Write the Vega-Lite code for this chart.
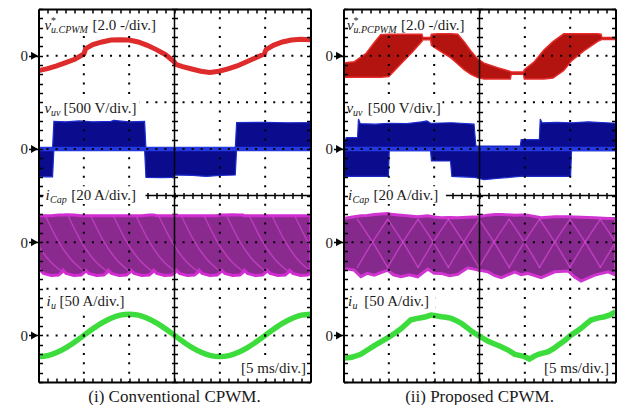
{
"$schema":"https://vega.github.io/schema/vega-lite/v6.json",
"background":"white",
"padding":{"left":19.5,"top":8,"right":0,"bottom":0},
"spacing":11,
"config":{"view":{"stroke":null},"axis":{"minExtent":0}},
"datasets":{
"redL":[{"t":0,"v":6.679},{"t":1,"v":6.721},{"t":2,"v":6.779},{"t":3,"v":6.85},{"t":4,"v":6.921},{"t":5,"v":7.036},{"t":5.2,"v":7.15},{"t":6,"v":7.236},{"t":7,"v":7.293},{"t":8,"v":7.336},{"t":9,"v":7.343},{"t":10,"v":7.336},{"t":11,"v":7.293},{"t":12,"v":7.221},{"t":13,"v":7.129},{"t":14,"v":7.021},{"t":14.9,"v":6.879},{"t":15.2,"v":6.807},{"t":15.9,"v":6.764},{"t":16.9,"v":6.714},{"t":17.9,"v":6.664},{"t":18.9,"v":6.636},{"t":19.9,"v":6.664},{"t":20.9,"v":6.714},{"t":21.9,"v":6.779},{"t":22.9,"v":6.864},{"t":23.9,"v":6.95},{"t":24.9,"v":7.036},{"t":25.1,"v":7.129},{"t":25.9,"v":7.221},{"t":26.9,"v":7.293},{"t":27.9,"v":7.336},{"t":28.9,"v":7.35},{"t":30,"v":7.343}],
"blueL":[{"t":0,"lo":4.41,"hi":5},{"t":0.8,"lo":4.4,"hi":5},{"t":1.55,"lo":4.4,"hi":5},{"t":1.7,"lo":5,"hi":5.59},{"t":3,"lo":5,"hi":5.58},{"t":4.5,"lo":5,"hi":5.6},{"t":6,"lo":5,"hi":5.58},{"t":8,"lo":5,"hi":5.59},{"t":8.3,"lo":5,"hi":5.61},{"t":10,"lo":5,"hi":5.58},{"t":11.7,"lo":5,"hi":5.59},{"t":11.85,"lo":4.39,"hi":5},{"t":13.5,"lo":4.385,"hi":5},{"t":14.9,"lo":4.39,"hi":5},{"t":15,"lo":4.44,"hi":5},{"t":17,"lo":4.43,"hi":5},{"t":18.5,"lo":4.41,"hi":5},{"t":20,"lo":4.43,"hi":5},{"t":21.7,"lo":4.44,"hi":5},{"t":21.85,"lo":5,"hi":5.565},{"t":25,"lo":5,"hi":5.57},{"t":27.5,"lo":5,"hi":5.56},{"t":30,"lo":5,"hi":5.565}],
"magL":[{"t":0,"lo":2.37,"hi":3.565},
{"t":0.2,"lo":2.4,"hi":3.565},{"t":0.55,"lo":2.33,"hi":3.565},{"t":1.4,"lo":2.285,"hi":3.565},{"t":2.2,"lo":2.295,"hi":3.58},{"t":2.55,"lo":2.35,"hi":3.58},
{"t":2.7,"lo":2.4,"hi":3.58},{"t":3.05,"lo":2.33,"hi":3.585},{"t":3.9,"lo":2.285,"hi":3.58},{"t":4.7,"lo":2.295,"hi":3.565},{"t":5.05,"lo":2.35,"hi":3.565},
{"t":5.2,"lo":2.4,"hi":3.565},{"t":5.55,"lo":2.33,"hi":3.565},{"t":6.4,"lo":2.285,"hi":3.565},{"t":7.2,"lo":2.295,"hi":3.565},{"t":7.55,"lo":2.35,"hi":3.565},
{"t":7.7,"lo":2.4,"hi":3.565},{"t":8.05,"lo":2.33,"hi":3.565},{"t":8.9,"lo":2.285,"hi":3.565},{"t":9.7,"lo":2.295,"hi":3.565},{"t":10.05,"lo":2.35,"hi":3.565},
{"t":10.2,"lo":2.4,"hi":3.565},{"t":10.55,"lo":2.33,"hi":3.565},{"t":11.4,"lo":2.285,"hi":3.565},{"t":12.2,"lo":2.295,"hi":3.58},{"t":12.55,"lo":2.35,"hi":3.58},
{"t":12.7,"lo":2.4,"hi":3.58},{"t":13.05,"lo":2.33,"hi":3.565},{"t":13.9,"lo":2.285,"hi":3.565},{"t":14.7,"lo":2.295,"hi":3.565},{"t":15.05,"lo":2.35,"hi":3.565},
{"t":15.2,"lo":2.4,"hi":3.565},{"t":15.55,"lo":2.33,"hi":3.565},{"t":16.4,"lo":2.285,"hi":3.565},{"t":17.2,"lo":2.295,"hi":3.565},{"t":17.55,"lo":2.35,"hi":3.565},
{"t":17.7,"lo":2.4,"hi":3.565},{"t":18.05,"lo":2.33,"hi":3.565},{"t":18.9,"lo":2.285,"hi":3.565},{"t":19.7,"lo":2.295,"hi":3.565},{"t":20.05,"lo":2.35,"hi":3.58},
{"t":20.2,"lo":2.4,"hi":3.58},{"t":20.55,"lo":2.33,"hi":3.58},{"t":21.4,"lo":2.285,"hi":3.585},{"t":22.2,"lo":2.295,"hi":3.58},{"t":22.55,"lo":2.35,"hi":3.58},
{"t":22.7,"lo":2.4,"hi":3.565},{"t":23.05,"lo":2.33,"hi":3.565},{"t":23.9,"lo":2.285,"hi":3.565},{"t":24.7,"lo":2.295,"hi":3.565},{"t":25.05,"lo":2.35,"hi":3.565},
{"t":25.2,"lo":2.4,"hi":3.565},{"t":25.55,"lo":2.33,"hi":3.565},{"t":26.4,"lo":2.285,"hi":3.565},{"t":27.2,"lo":2.295,"hi":3.565},{"t":27.55,"lo":2.35,"hi":3.565},
{"t":27.7,"lo":2.4,"hi":3.565},{"t":28.05,"lo":2.33,"hi":3.565},{"t":28.9,"lo":2.285,"hi":3.565},{"t":29.7,"lo":2.295,"hi":3.565},{"t":30,"lo":2.33,"hi":3.565}],
"curvL":[
{"k":1,"t":-1.7,"v":3.55},{"k":1,"t":-0.4,"v":3.05},{"k":1,"t":1.0,"v":2.65},{"k":1,"t":2.5,"v":2.38},
{"k":2,"t":0.8,"v":3.55},{"k":2,"t":2.1,"v":3.05},{"k":2,"t":3.5,"v":2.65},{"k":2,"t":5.0,"v":2.38},
{"k":3,"t":3.3,"v":3.55},{"k":3,"t":4.6,"v":3.05},{"k":3,"t":6.0,"v":2.65},{"k":3,"t":7.5,"v":2.38},
{"k":4,"t":5.8,"v":3.55},{"k":4,"t":7.1,"v":3.05},{"k":4,"t":8.5,"v":2.65},{"k":4,"t":10.0,"v":2.38},
{"k":5,"t":8.3,"v":3.55},{"k":5,"t":9.6,"v":3.05},{"k":5,"t":11.0,"v":2.65},{"k":5,"t":12.5,"v":2.38},
{"k":6,"t":10.8,"v":3.55},{"k":6,"t":12.1,"v":3.05},{"k":6,"t":13.5,"v":2.65},{"k":6,"t":15.0,"v":2.38},
{"k":7,"t":13.3,"v":3.55},{"k":7,"t":14.6,"v":3.05},{"k":7,"t":16.0,"v":2.65},{"k":7,"t":17.5,"v":2.38},
{"k":8,"t":15.8,"v":3.55},{"k":8,"t":17.1,"v":3.05},{"k":8,"t":18.5,"v":2.65},{"k":8,"t":20.0,"v":2.38},
{"k":9,"t":18.3,"v":3.55},{"k":9,"t":19.6,"v":3.05},{"k":9,"t":21.0,"v":2.65},{"k":9,"t":22.5,"v":2.38},
{"k":10,"t":20.8,"v":3.55},{"k":10,"t":22.1,"v":3.05},{"k":10,"t":23.5,"v":2.65},{"k":10,"t":25.0,"v":2.38},
{"k":11,"t":23.3,"v":3.55},{"k":11,"t":24.6,"v":3.05},{"k":11,"t":26.0,"v":2.65},{"k":11,"t":27.5,"v":2.38},
{"k":12,"t":25.8,"v":3.55},{"k":12,"t":27.1,"v":3.05},{"k":12,"t":28.5,"v":2.65},{"k":12,"t":30.0,"v":2.38},
{"k":13,"t":28.3,"v":3.55},{"k":13,"t":29.6,"v":3.05},{"k":13,"t":31.0,"v":2.65},{"k":13,"t":32.5,"v":2.38}],
"greenL":[{"t":0,"v":0.545},{"t":1,"v":0.567},{"t":2,"v":0.632},{"t":3,"v":0.732},{"t":4,"v":0.859},{"t":5,"v":1.0},{"t":6,"v":1.141},{"t":7,"v":1.268},{"t":8,"v":1.368},{"t":9,"v":1.433},{"t":10,"v":1.455},{"t":11,"v":1.433},{"t":12,"v":1.368},{"t":13,"v":1.268},{"t":14,"v":1.141},{"t":15,"v":1.0},{"t":16,"v":0.859},{"t":17,"v":0.732},{"t":18,"v":0.632},{"t":19,"v":0.567},{"t":20,"v":0.545},{"t":21,"v":0.567},{"t":22,"v":0.632},{"t":23,"v":0.732},{"t":24,"v":0.859},{"t":25,"v":1.0},{"t":26,"v":1.141},{"t":27,"v":1.268},{"t":28,"v":1.368},{"t":29,"v":1.433},{"t":30,"v":1.455}],
"redR":[{"t":0,"lo":6.536,"hi":6.843},{"t":1.2,"lo":6.536,"hi":6.87},{"t":2.5,"lo":6.536,"hi":7.05},{"t":3.4,"lo":6.536,"hi":7.28},{"t":4.1,"lo":6.536,"hi":7.45},{"t":5.0,"lo":6.55,"hi":7.46},{"t":6.5,"lo":6.86,"hi":7.46},{"t":7.6,"lo":7.08,"hi":7.46},{"t":8.65,"lo":7.31,"hi":7.46},{"t":8.75,"lo":7.34,"hi":7.39},{"t":9.6,"lo":7.34,"hi":7.39},{"t":9.7,"lo":7.22,"hi":7.46},{"t":10.4,"lo":7.13,"hi":7.47},{"t":11.85,"lo":6.95,"hi":7.47},{"t":12.6,"lo":6.82,"hi":7.46},{"t":13.3,"lo":6.7,"hi":7.3},{"t":14.05,"lo":6.6,"hi":7.1},{"t":14.8,"lo":6.53,"hi":6.93},{"t":15.5,"lo":6.5,"hi":6.84},{"t":17.0,"lo":6.5,"hi":6.74},{"t":18.4,"lo":6.5,"hi":6.66},{"t":18.5,"lo":6.6,"hi":6.65},{"t":19.85,"lo":6.6,"hi":6.65},{"t":19.95,"lo":6.5,"hi":6.7},{"t":21.0,"lo":6.5,"hi":6.86},{"t":22.1,"lo":6.5,"hi":7.12},{"t":23.1,"lo":6.52,"hi":7.3},{"t":24.3,"lo":6.68,"hi":7.47},{"t":25.1,"lo":6.88,"hi":7.47},{"t":26.5,"lo":7.1,"hi":7.47},{"t":28.0,"lo":7.3,"hi":7.47},{"t":28.4,"lo":7.34,"hi":7.46},{"t":28.5,"lo":7.345,"hi":7.39},{"t":30,"lo":7.345,"hi":7.39}],
"blueR":[{"t":0,"lo":4.41,"hi":5.06},{"t":0.3,"lo":4.41,"hi":5.24},{"t":1.55,"lo":4.41,"hi":5.24},{"t":1.65,"lo":4.41,"hi":5.64},{"t":1.85,"lo":4.41,"hi":5.54},{"t":3.5,"lo":4.41,"hi":5.53},{"t":4.95,"lo":4.41,"hi":5.55},{"t":5.05,"lo":4.96,"hi":5.55},{"t":7,"lo":4.96,"hi":5.54},{"t":8.6,"lo":4.96,"hi":5.58},{"t":9.2,"lo":4.96,"hi":5.6},{"t":9.6,"lo":4.96,"hi":5.55},{"t":9.7,"lo":4.74,"hi":5.55},{"t":11.8,"lo":4.74,"hi":5.56},{"t":11.95,"lo":4.41,"hi":5.56},{"t":13,"lo":4.4,"hi":5.55},{"t":14.4,"lo":4.39,"hi":5.53},{"t":14.6,"lo":4.38,"hi":5.06},{"t":15.5,"lo":4.34,"hi":5.06},{"t":17.2,"lo":4.37,"hi":5.06},{"t":19.5,"lo":4.41,"hi":5.06},{"t":19.6,"lo":4.41,"hi":5.2},{"t":21.6,"lo":4.41,"hi":5.2},{"t":21.7,"lo":4.41,"hi":5.64},{"t":21.9,"lo":4.41,"hi":5.56},{"t":23.5,"lo":4.41,"hi":5.57},{"t":25.05,"lo":4.41,"hi":5.56},{"t":25.15,"lo":4.96,"hi":5.56},{"t":27,"lo":4.96,"hi":5.58},{"t":29,"lo":4.96,"hi":5.56},{"t":30,"lo":4.96,"hi":5.55}],
"magR":[{"t":0,"lo":2.436,"hi":3.507},{"t":1.18,"lo":2.4,"hi":3.543},{"t":1.92,"lo":2.257,"hi":3.564},{"t":2.6,"lo":2.33,"hi":3.57},{"t":3.39,"lo":2.293,"hi":3.593},{"t":4.87,"lo":2.4,"hi":3.614},{"t":5.5,"lo":2.3,"hi":3.59},{"t":6.34,"lo":2.257,"hi":3.579},{"t":7.3,"lo":2.3,"hi":3.56},{"t":8.18,"lo":2.257,"hi":3.543},{"t":9.29,"lo":2.421,"hi":3.564},{"t":10.0,"lo":2.33,"hi":3.54},{"t":10.76,"lo":2.329,"hi":3.521},{"t":11.7,"lo":2.28,"hi":3.53},{"t":12.6,"lo":2.307,"hi":3.521},{"t":13.7,"lo":2.45,"hi":3.536},{"t":14.9,"lo":2.4,"hi":3.543},{"t":15.9,"lo":2.364,"hi":3.579},{"t":16.7,"lo":2.28,"hi":3.59},{"t":17.4,"lo":2.236,"hi":3.593},{"t":18.9,"lo":2.364,"hi":3.579},{"t":19.6,"lo":2.3,"hi":3.58},{"t":20.3,"lo":2.329,"hi":3.579},{"t":21.8,"lo":2.236,"hi":3.521},{"t":23.3,"lo":2.364,"hi":3.543},{"t":24.8,"lo":2.379,"hi":3.543},{"t":25.5,"lo":2.25,"hi":3.54},{"t":26.2,"lo":2.164,"hi":3.536},{"t":27.7,"lo":2.293,"hi":3.521},{"t":29.2,"lo":2.364,"hi":3.507},{"t":30,"lo":2.293,"hi":3.507}],
"crossR":[
{"k":"d1","t":1.5,"v":3.5},{"k":"d1","t":3.2,"v":3.0},{"k":"d1","t":4.9,"v":2.45},{"k":"a1","t":1.5,"v":2.45},{"k":"a1","t":3.2,"v":3.0},{"k":"a1","t":4.9,"v":3.5},
{"k":"d2","t":4.85,"v":3.5},{"k":"d2","t":6.55,"v":3.0},{"k":"d2","t":8.25,"v":2.45},{"k":"a2","t":4.85,"v":2.45},{"k":"a2","t":6.55,"v":3.0},{"k":"a2","t":8.25,"v":3.5},
{"k":"d3","t":8.2,"v":3.5},{"k":"d3","t":9.9,"v":3.0},{"k":"d3","t":11.6,"v":2.45},{"k":"a3","t":8.2,"v":2.45},{"k":"a3","t":9.9,"v":3.0},{"k":"a3","t":11.6,"v":3.5},
{"k":"d4","t":11.55,"v":3.5},{"k":"d4","t":13.25,"v":3.0},{"k":"d4","t":14.95,"v":2.45},{"k":"a4","t":11.55,"v":2.45},{"k":"a4","t":13.25,"v":3.0},{"k":"a4","t":14.95,"v":3.5},
{"k":"d5","t":14.9,"v":3.5},{"k":"d5","t":16.6,"v":3.0},{"k":"d5","t":18.3,"v":2.45},{"k":"a5","t":14.9,"v":2.45},{"k":"a5","t":16.6,"v":3.0},{"k":"a5","t":18.3,"v":3.5},
{"k":"d6","t":18.25,"v":3.5},{"k":"d6","t":19.95,"v":3.0},{"k":"d6","t":21.65,"v":2.45},{"k":"a6","t":18.25,"v":2.45},{"k":"a6","t":19.95,"v":3.0},{"k":"a6","t":21.65,"v":3.5},
{"k":"d7","t":21.6,"v":3.5},{"k":"d7","t":23.3,"v":3.0},{"k":"d7","t":25.0,"v":2.45},{"k":"a7","t":21.6,"v":2.45},{"k":"a7","t":23.3,"v":3.0},{"k":"a7","t":25.0,"v":3.5},
{"k":"d8","t":24.95,"v":3.5},{"k":"d8","t":26.65,"v":3.0},{"k":"d8","t":28.35,"v":2.45},{"k":"a8","t":24.95,"v":2.45},{"k":"a8","t":26.65,"v":3.0},{"k":"a8","t":28.35,"v":3.5},
{"k":"d9","t":28.3,"v":3.5},{"k":"d9","t":30.0,"v":3.0},{"k":"a9","t":28.3,"v":2.45},{"k":"a9","t":30.0,"v":3.0}],
"greenR":[{"t":0,"v":0.507},{"t":0.9,"v":0.53},{"t":1.9,"v":0.593},{"t":2.6,"v":0.68},{"t":3.4,"v":0.779},{"t":4.2,"v":0.87},{"t":5,"v":0.964},{"t":5.7,"v":1.05},{"t":6.3,"v":1.136},{"t":6.9,"v":1.24},{"t":7.4,"v":1.329},{"t":8,"v":1.36},{"t":8.55,"v":1.379},{"t":9.1,"v":1.4},{"t":9.65,"v":1.436},{"t":10.2,"v":1.42},{"t":10.8,"v":1.4},{"t":11.3,"v":1.39},{"t":11.9,"v":1.364},{"t":12.4,"v":1.32},{"t":13,"v":1.257},{"t":13.6,"v":1.17},{"t":14.1,"v":1.093},{"t":14.9,"v":0.993},{"t":15.9,"v":0.879},{"t":16.6,"v":0.82},{"t":17.4,"v":0.757},{"t":18.2,"v":0.68},{"t":18.9,"v":0.593},{"t":19.4,"v":0.57},{"t":20,"v":0.543},{"t":20.5,"v":0.493},{"t":21,"v":0.55},{"t":21.5,"v":0.593},{"t":22,"v":0.62},{"t":22.6,"v":0.65},{"t":23.2,"v":0.72},{"t":23.7,"v":0.793},{"t":24.4,"v":0.89},{"t":25,"v":0.993},{"t":25.6,"v":1.07},{"t":26.2,"v":1.15},{"t":26.8,"v":1.25},{"t":27.3,"v":1.329},{"t":28,"v":1.37},{"t":28.8,"v":1.4},{"t":29.4,"v":1.44},{"t":30,"v":1.507}],
"zeros":[{"v":1},{"v":3},{"v":5},{"v":7}],
"gx":[{"g":5},{"g":10},{"g":20},{"g":25}],
"gy":[{"g":1},{"g":2},{"g":3},{"g":5},{"g":6},{"g":7}],
"box":[
{"p":"L","t1":0.55,"t2":13.2,"v1":7.42,"v2":7.85},{"p":"L","t1":0.55,"t2":11.1,"v1":5.66,"v2":6.05},{"p":"L","t1":0.55,"t2":11.8,"v1":3.82,"v2":4.2},{"p":"L","t1":0.55,"t2":10.4,"v1":1.54,"v2":1.95},{"p":"L","t1":22.05,"t2":29.7,"v1":0.107,"v2":0.47},
{"p":"R","t1":0.17,"t2":13.7,"v1":7.5,"v2":7.85},{"p":"R","t1":0.17,"t2":10.9,"v1":5.66,"v2":6.05},{"p":"R","t1":0.17,"t2":11.3,"v1":3.82,"v2":4.2},{"p":"R","t1":0.17,"t2":10.1,"v1":1.54,"v2":1.95},{"p":"R","t1":21.8,"t2":29.5,"v1":0.107,"v2":0.47}],
"lab":[
{"p":"L","s":"it","t":0.66,"v":7.55,"text":"v"},{"p":"L","s":"sup","t":1.38,"v":7.68,"text":"*"},{"p":"L","s":"sub","t":1.38,"v":7.475,"text":"u.CPWM"},{"p":"L","s":"rm","t":5.95,"v":7.55,"text":"[2.0 -/div.]"},
{"p":"L","s":"it","t":0.66,"v":5.77,"text":"v"},{"p":"L","s":"sub","t":1.38,"v":5.695,"text":"uv"},{"p":"L","s":"rm","t":2.76,"v":5.77,"text":"[500 V/div.]"},
{"p":"L","s":"it","t":0.77,"v":3.904,"text":"i"},{"p":"L","s":"sub","t":1.27,"v":3.83,"text":"Cap"},{"p":"L","s":"rm","t":3.6,"v":3.904,"text":"[20 A/div.]"},
{"p":"L","s":"it","t":0.88,"v":1.63,"text":"i"},{"p":"L","s":"sub","t":1.38,"v":1.555,"text":"u"},{"p":"L","s":"rm","t":2.32,"v":1.63,"text":"[50 A/div.]"},
{"p":"L","s":"rmR","t":29.5,"v":0.193,"text":"[5 ms/div.]"},
{"p":"R","s":"it","t":0.39,"v":7.55,"text":"v"},{"p":"R","s":"sup","t":1.1,"v":7.68,"text":"*"},{"p":"R","s":"sub","t":1.1,"v":7.475,"text":"u.PCPWM"},{"p":"R","s":"rm","t":6.34,"v":7.55,"text":"[2.0 -/div.]"},
{"p":"R","s":"it","t":0.33,"v":5.77,"text":"v"},{"p":"R","s":"sub","t":1.05,"v":5.695,"text":"uv"},{"p":"R","s":"rm","t":2.67,"v":5.77,"text":"[500 V/div.]"},
{"p":"R","s":"it","t":0.5,"v":3.904,"text":"i"},{"p":"R","s":"sub","t":0.99,"v":3.83,"text":"Cap"},{"p":"R","s":"rm","t":3.3,"v":3.904,"text":"[20 A/div.]"},
{"p":"R","s":"it","t":0.5,"v":1.63,"text":"i"},{"p":"R","s":"sub","t":0.99,"v":1.555,"text":"u"},{"p":"R","s":"rm","t":2.29,"v":1.63,"text":"[50 A/div.]"},
{"p":"R","s":"rmR","t":29.27,"v":0.193,"text":"[5 ms/div.]"}]
},
"hconcat":[
{"width":272,"height":373,
"title":{"text":"(i) Conventional CPWM.","orient":"bottom","anchor":"middle","frame":"group","offset":6,"font":"Liberation Serif","fontSize":17,"fontWeight":"normal","color":"#1a1a1a"},
"resolve":{"axis":{"x":"independent","y":"independent"}},
"layer":[
{"data":{"name":"blueL"},"mark":{"type":"area","fill":"#0b0b8e","stroke":"#1c2ccc","strokeWidth":1.2,"clip":true},
 "encoding":{"x":{"field":"t","type":"quantitative","scale":{"domain":[0,30],"nice":false,"zero":false},"axis":{"orient":"bottom","title":null,"values":[0,1,2,3,4,5,6,7,8,9,10,11,12,13,14,15,16,17,18,19,20,21,22,23,24,25,26,27,28,29,30],"ticks":true,"tickSize":-4,"tickWidth":1.5,"tickColor":"#000","domain":true,"domainWidth":2,"domainColor":"#000","labels":false,"grid":false,"zindex":1}},
 "y":{"field":"lo","type":"quantitative","scale":{"domain":[0,8],"nice":false,"zero":false},"axis":{"orient":"left","title":null,"values":[0,0.2,0.4,0.6,0.8,1,1.2,1.4,1.6,1.8,2,2.2,2.4,2.6,2.8,3,3.2,3.4,3.6,3.8,4,4.2,4.4,4.6,4.8,5,5.2,5.4,5.6,5.8,6,6.2,6.4,6.6,6.8,7,7.2,7.4,7.6,7.8,8],"ticks":true,"tickSize":-4,"tickWidth":1.5,"tickColor":"#000","domain":true,"domainWidth":2,"domainColor":"#000","labels":false,"grid":false,"zindex":1,"minExtent":0}},
 "y2":{"field":"hi"}}},
{"data":{"values":[{}]},"mark":{"type":"rule","color":"#2438e0","strokeWidth":4.5},"encoding":{"y":{"datum":5,"type":"quantitative","scale":{"domain":[0,8],"nice":false,"zero":false},"axis":null}}},
{"data":{"name":"redL"},"mark":{"type":"line","color":"#de2b2b","strokeWidth":5,"clip":true},
 "encoding":{"x":{"field":"t","type":"quantitative","scale":{"domain":[0,30],"nice":false,"zero":false},"axis":{"orient":"top","title":null,"values":[0,1,2,3,4,5,6,7,8,9,10,11,12,13,14,15,16,17,18,19,20,21,22,23,24,25,26,27,28,29,30],"ticks":true,"tickSize":-4,"tickWidth":1.5,"tickColor":"#000","domain":true,"domainWidth":2,"domainColor":"#000","labels":false,"grid":false,"zindex":1}},
 "y":{"field":"v","type":"quantitative","scale":{"domain":[0,8],"nice":false,"zero":false},"axis":{"orient":"right","title":null,"values":[0,0.2,0.4,0.6,0.8,1,1.2,1.4,1.6,1.8,2,2.2,2.4,2.6,2.8,3,3.2,3.4,3.6,3.8,4,4.2,4.4,4.6,4.8,5,5.2,5.4,5.6,5.8,6,6.2,6.4,6.6,6.8,7,7.2,7.4,7.6,7.8,8],"ticks":true,"tickSize":-4,"tickWidth":1.5,"tickColor":"#000","domain":true,"domainWidth":2,"domainColor":"#000","labels":false,"grid":false,"zindex":1,"minExtent":0}}}},
{"data":{"name":"magL"},"mark":{"type":"area","fill":"#8a2a8f","stroke":"#d12cd1","strokeWidth":3,"clip":true},
 "encoding":{"x":{"field":"t","type":"quantitative","scale":{"domain":[0,30],"nice":false,"zero":false},"axis":null},
 "y":{"field":"lo","type":"quantitative","scale":{"domain":[0,8],"nice":false,"zero":false},"axis":null},
 "y2":{"field":"hi"}}},
{"data":{"name":"curvL"},"mark":{"type":"line","color":"#e850e8","strokeWidth":1.5,"opacity":0.5,"interpolate":"monotone","clip":true},
 "encoding":{"x":{"field":"t","type":"quantitative","scale":{"domain":[0,30],"nice":false,"zero":false},"axis":null},"y":{"field":"v","type":"quantitative","scale":{"domain":[0,8],"nice":false,"zero":false},"axis":null},"detail":{"field":"k"}}},
{"data":{"name":"greenL"},"mark":{"type":"line","color":"#3ddc3d","strokeWidth":5.5,"interpolate":"monotone","clip":true},
 "encoding":{"x":{"field":"t","type":"quantitative","scale":{"domain":[0,30],"nice":false,"zero":false},"axis":{"orient":"bottom","title":null,"offset":-189.5,"values":[0,1,2,3,4,5,6,7,8,9,10,11,12,13,14,15,16,17,18,19,20,21,22,23,24,25,26,27,28,29,30],"ticks":true,"tickSize":6,"tickWidth":1.5,"tickColor":"#000","labels":false,"domain":false,"grid":false,"zindex":0}},
 "y":{"field":"v","type":"quantitative","scale":{"domain":[0,8],"nice":false,"zero":false},"axis":{"orient":"left","title":null,"offset":-139,"values":[0,0.2,0.4,0.6,0.8,1,1.2,1.4,1.6,1.8,2,2.2,2.4,2.6,2.8,3,3.2,3.4,3.6,3.8,4,4.2,4.4,4.6,4.8,5,5.2,5.4,5.6,5.8,6,6.2,6.4,6.6,6.8,7,7.2,7.4,7.6,7.8,8],"ticks":true,"tickSize":6,"tickWidth":1.5,"tickColor":"#000","labels":false,"domain":false,"grid":false,"zindex":0,"minExtent":0}}}},
{"data":{"name":"gx"},"mark":{"type":"rule","color":"#000","strokeWidth":2,"strokeDash":[2,7.325],"strokeDashOffset":1},"encoding":{"x":{"field":"g","type":"quantitative","scale":{"domain":[0,30],"nice":false,"zero":false},"axis":null}}},
{"data":{"name":"gy"},"mark":{"type":"rule","color":"#000","strokeWidth":2,"strokeDash":[2,7.067],"strokeDashOffset":1},"encoding":{"y":{"field":"g","type":"quantitative","scale":{"domain":[0,8],"nice":false,"zero":false},"axis":null}}},
{"data":{"values":[{}]},"mark":{"type":"rule","color":"#000","strokeWidth":1.5},"encoding":{"x":{"datum":15,"type":"quantitative","scale":{"domain":[0,30],"nice":false,"zero":false},"axis":null}}},
{"data":{"values":[{}]},"mark":{"type":"rule","color":"#000","strokeWidth":1.5},"encoding":{"y":{"datum":4,"type":"quantitative","scale":{"domain":[0,8],"nice":false,"zero":false},"axis":null}}},
{"data":{"name":"box"},"transform":[{"filter":"datum.p=='L'"}],"mark":{"type":"rect","fill":"white"},
 "encoding":{"x":{"field":"t1","type":"quantitative","scale":{"domain":[0,30],"nice":false,"zero":false},"axis":null},"x2":{"field":"t2"},"y":{"field":"v1","type":"quantitative","scale":{"domain":[0,8],"nice":false,"zero":false},"axis":null},"y2":{"field":"v2"}}},
{"data":{"name":"zeros"},"mark":{"type":"point","shape":"triangle-right","filled":true,"color":"#000","opacity":1,"size":64,"xOffset":-4},
 "encoding":{"x":{"datum":0,"type":"quantitative","scale":{"domain":[0,30],"nice":false,"zero":false},"axis":null},
 "y":{"field":"v","type":"quantitative","scale":{"domain":[0,8],"nice":false,"zero":false},"axis":{"orient":"left","title":null,"values":[1,3,5,7],"labelExpr":"'0'","labels":true,"labelFont":"Liberation Serif","labelFontSize":15,"labelColor":"#1a1a1a","labelPadding":1,"labelBaseline":"middle","ticks":true,"tickSize":10,"tickWidth":1.5,"tickColor":"#000","domain":false,"grid":false,"zindex":1,"minExtent":0}}}},
{"data":{"name":"lab"},"transform":[{"filter":"datum.p=='L' && datum.s=='it'"}],"mark":{"type":"text","font":"Liberation Serif","fontSize":15,"fontStyle":"italic","align":"left","baseline":"alphabetic","color":"#1a1a1a"},
 "encoding":{"x":{"field":"t","type":"quantitative","scale":{"domain":[0,30],"nice":false,"zero":false},"axis":null},"y":{"field":"v","type":"quantitative","scale":{"domain":[0,8],"nice":false,"zero":false},"axis":null},"text":{"field":"text"}}},
{"data":{"name":"lab"},"transform":[{"filter":"datum.p=='L' && datum.s=='sub'"}],"mark":{"type":"text","font":"Liberation Serif","fontSize":10,"fontStyle":"italic","align":"left","baseline":"alphabetic","color":"#1a1a1a"},
 "encoding":{"x":{"field":"t","type":"quantitative","scale":{"domain":[0,30],"nice":false,"zero":false},"axis":null},"y":{"field":"v","type":"quantitative","scale":{"domain":[0,8],"nice":false,"zero":false},"axis":null},"text":{"field":"text"}}},
{"data":{"name":"lab"},"transform":[{"filter":"datum.p=='L' && datum.s=='sup'"}],"mark":{"type":"text","font":"Liberation Serif","fontSize":10,"align":"left","baseline":"alphabetic","color":"#1a1a1a"},
 "encoding":{"x":{"field":"t","type":"quantitative","scale":{"domain":[0,30],"nice":false,"zero":false},"axis":null},"y":{"field":"v","type":"quantitative","scale":{"domain":[0,8],"nice":false,"zero":false},"axis":null},"text":{"field":"text"}}},
{"data":{"name":"lab"},"transform":[{"filter":"datum.p=='L' && datum.s=='rm'"}],"mark":{"type":"text","font":"Liberation Serif","fontSize":15,"align":"left","baseline":"alphabetic","color":"#1a1a1a"},
 "encoding":{"x":{"field":"t","type":"quantitative","scale":{"domain":[0,30],"nice":false,"zero":false},"axis":null},"y":{"field":"v","type":"quantitative","scale":{"domain":[0,8],"nice":false,"zero":false},"axis":null},"text":{"field":"text"}}},
{"data":{"name":"lab"},"transform":[{"filter":"datum.p=='L' && datum.s=='rmR'"}],"mark":{"type":"text","font":"Liberation Serif","fontSize":15,"align":"right","baseline":"alphabetic","color":"#1a1a1a"},
 "encoding":{"x":{"field":"t","type":"quantitative","scale":{"domain":[0,30],"nice":false,"zero":false},"axis":null},"y":{"field":"v","type":"quantitative","scale":{"domain":[0,8],"nice":false,"zero":false},"axis":null},"text":{"field":"text"}}}
]},
{"width":272,"height":373,
"title":{"text":"(ii) Proposed CPWM.","orient":"bottom","anchor":"middle","frame":"group","offset":6,"font":"Liberation Serif","fontSize":17,"fontWeight":"normal","color":"#1a1a1a"},
"resolve":{"axis":{"x":"independent","y":"independent"}},
"layer":[
{"data":{"name":"blueR"},"mark":{"type":"area","fill":"#0b0b8e","stroke":"#1c2ccc","strokeWidth":1.2,"clip":true},
 "encoding":{"x":{"field":"t","type":"quantitative","scale":{"domain":[0,30],"nice":false,"zero":false},"axis":{"orient":"bottom","title":null,"values":[0,1,2,3,4,5,6,7,8,9,10,11,12,13,14,15,16,17,18,19,20,21,22,23,24,25,26,27,28,29,30],"ticks":true,"tickSize":-4,"tickWidth":1.5,"tickColor":"#000","domain":true,"domainWidth":2,"domainColor":"#000","labels":false,"grid":false,"zindex":1}},
 "y":{"field":"lo","type":"quantitative","scale":{"domain":[0,8],"nice":false,"zero":false},"axis":{"orient":"left","title":null,"values":[0,0.2,0.4,0.6,0.8,1,1.2,1.4,1.6,1.8,2,2.2,2.4,2.6,2.8,3,3.2,3.4,3.6,3.8,4,4.2,4.4,4.6,4.8,5,5.2,5.4,5.6,5.8,6,6.2,6.4,6.6,6.8,7,7.2,7.4,7.6,7.8,8],"ticks":true,"tickSize":-4,"tickWidth":1.5,"tickColor":"#000","domain":true,"domainWidth":2,"domainColor":"#000","labels":false,"grid":false,"zindex":1,"minExtent":0}},
 "y2":{"field":"hi"}}},
{"data":{"values":[{}]},"mark":{"type":"rule","color":"#2438e0","strokeWidth":4.5},"encoding":{"y":{"datum":5,"type":"quantitative","scale":{"domain":[0,8],"nice":false,"zero":false},"axis":null}}},
{"data":{"name":"redR"},"mark":{"type":"area","fill":"#b3140f","stroke":"#e52b2b","strokeWidth":1.5,"clip":true},
 "encoding":{"x":{"field":"t","type":"quantitative","scale":{"domain":[0,30],"nice":false,"zero":false},"axis":{"orient":"top","title":null,"values":[0,1,2,3,4,5,6,7,8,9,10,11,12,13,14,15,16,17,18,19,20,21,22,23,24,25,26,27,28,29,30],"ticks":true,"tickSize":-4,"tickWidth":1.5,"tickColor":"#000","domain":true,"domainWidth":2,"domainColor":"#000","labels":false,"grid":false,"zindex":1}},
 "y":{"field":"lo","type":"quantitative","scale":{"domain":[0,8],"nice":false,"zero":false},"axis":{"orient":"right","title":null,"values":[0,0.2,0.4,0.6,0.8,1,1.2,1.4,1.6,1.8,2,2.2,2.4,2.6,2.8,3,3.2,3.4,3.6,3.8,4,4.2,4.4,4.6,4.8,5,5.2,5.4,5.6,5.8,6,6.2,6.4,6.6,6.8,7,7.2,7.4,7.6,7.8,8],"ticks":true,"tickSize":-4,"tickWidth":1.5,"tickColor":"#000","domain":true,"domainWidth":2,"domainColor":"#000","labels":false,"grid":false,"zindex":1,"minExtent":0}},
 "y2":{"field":"hi"}}},
{"data":{"name":"magR"},"mark":{"type":"area","fill":"#86298c","stroke":"#cf34d0","strokeWidth":3,"clip":true},
 "encoding":{"x":{"field":"t","type":"quantitative","scale":{"domain":[0,30],"nice":false,"zero":false},"axis":null},
 "y":{"field":"lo","type":"quantitative","scale":{"domain":[0,8],"nice":false,"zero":false},"axis":null},
 "y2":{"field":"hi"}}},
{"data":{"name":"crossR"},"mark":{"type":"line","color":"#e850e8","strokeWidth":1.5,"opacity":0.55,"interpolate":"monotone","clip":true},
 "encoding":{"x":{"field":"t","type":"quantitative","scale":{"domain":[0,30],"nice":false,"zero":false},"axis":null},"y":{"field":"v","type":"quantitative","scale":{"domain":[0,8],"nice":false,"zero":false},"axis":null},"detail":{"field":"k"}}},
{"data":{"name":"greenR"},"mark":{"type":"line","color":"#3ddc3d","strokeWidth":5.5,"clip":true},
 "encoding":{"x":{"field":"t","type":"quantitative","scale":{"domain":[0,30],"nice":false,"zero":false},"axis":{"orient":"bottom","title":null,"offset":-189.5,"values":[0,1,2,3,4,5,6,7,8,9,10,11,12,13,14,15,16,17,18,19,20,21,22,23,24,25,26,27,28,29,30],"ticks":true,"tickSize":6,"tickWidth":1.5,"tickColor":"#000","labels":false,"domain":false,"grid":false,"zindex":0}},
 "y":{"field":"v","type":"quantitative","scale":{"domain":[0,8],"nice":false,"zero":false},"axis":{"orient":"left","title":null,"offset":-139,"values":[0,0.2,0.4,0.6,0.8,1,1.2,1.4,1.6,1.8,2,2.2,2.4,2.6,2.8,3,3.2,3.4,3.6,3.8,4,4.2,4.4,4.6,4.8,5,5.2,5.4,5.6,5.8,6,6.2,6.4,6.6,6.8,7,7.2,7.4,7.6,7.8,8],"ticks":true,"tickSize":6,"tickWidth":1.5,"tickColor":"#000","labels":false,"domain":false,"grid":false,"zindex":0,"minExtent":0}}}},
{"data":{"name":"gx"},"mark":{"type":"rule","color":"#000","strokeWidth":2,"strokeDash":[2,7.325],"strokeDashOffset":1},"encoding":{"x":{"field":"g","type":"quantitative","scale":{"domain":[0,30],"nice":false,"zero":false},"axis":null}}},
{"data":{"name":"gy"},"mark":{"type":"rule","color":"#000","strokeWidth":2,"strokeDash":[2,7.067],"strokeDashOffset":1},"encoding":{"y":{"field":"g","type":"quantitative","scale":{"domain":[0,8],"nice":false,"zero":false},"axis":null}}},
{"data":{"values":[{}]},"mark":{"type":"rule","color":"#000","strokeWidth":1.5},"encoding":{"x":{"datum":15,"type":"quantitative","scale":{"domain":[0,30],"nice":false,"zero":false},"axis":null}}},
{"data":{"values":[{}]},"mark":{"type":"rule","color":"#000","strokeWidth":1.5},"encoding":{"y":{"datum":4,"type":"quantitative","scale":{"domain":[0,8],"nice":false,"zero":false},"axis":null}}},
{"data":{"name":"box"},"transform":[{"filter":"datum.p=='R'"}],"mark":{"type":"rect","fill":"white"},
 "encoding":{"x":{"field":"t1","type":"quantitative","scale":{"domain":[0,30],"nice":false,"zero":false},"axis":null},"x2":{"field":"t2"},"y":{"field":"v1","type":"quantitative","scale":{"domain":[0,8],"nice":false,"zero":false},"axis":null},"y2":{"field":"v2"}}},
{"data":{"name":"zeros"},"mark":{"type":"point","shape":"triangle-right","filled":true,"color":"#000","opacity":1,"size":64,"xOffset":-4},
 "encoding":{"x":{"datum":0,"type":"quantitative","scale":{"domain":[0,30],"nice":false,"zero":false},"axis":null},
 "y":{"field":"v","type":"quantitative","scale":{"domain":[0,8],"nice":false,"zero":false},"axis":{"orient":"left","title":null,"values":[1,3,5,7],"labelExpr":"'0'","labels":true,"labelFont":"Liberation Serif","labelFontSize":15,"labelColor":"#1a1a1a","labelPadding":1,"labelBaseline":"middle","ticks":true,"tickSize":10,"tickWidth":1.5,"tickColor":"#000","domain":false,"grid":false,"zindex":1,"minExtent":0}}}},
{"data":{"name":"lab"},"transform":[{"filter":"datum.p=='R' && datum.s=='it'"}],"mark":{"type":"text","font":"Liberation Serif","fontSize":15,"fontStyle":"italic","align":"left","baseline":"alphabetic","color":"#1a1a1a"},
 "encoding":{"x":{"field":"t","type":"quantitative","scale":{"domain":[0,30],"nice":false,"zero":false},"axis":null},"y":{"field":"v","type":"quantitative","scale":{"domain":[0,8],"nice":false,"zero":false},"axis":null},"text":{"field":"text"}}},
{"data":{"name":"lab"},"transform":[{"filter":"datum.p=='R' && datum.s=='sub'"}],"mark":{"type":"text","font":"Liberation Serif","fontSize":10,"fontStyle":"italic","align":"left","baseline":"alphabetic","color":"#1a1a1a"},
 "encoding":{"x":{"field":"t","type":"quantitative","scale":{"domain":[0,30],"nice":false,"zero":false},"axis":null},"y":{"field":"v","type":"quantitative","scale":{"domain":[0,8],"nice":false,"zero":false},"axis":null},"text":{"field":"text"}}},
{"data":{"name":"lab"},"transform":[{"filter":"datum.p=='R' && datum.s=='sup'"}],"mark":{"type":"text","font":"Liberation Serif","fontSize":10,"align":"left","baseline":"alphabetic","color":"#1a1a1a"},
 "encoding":{"x":{"field":"t","type":"quantitative","scale":{"domain":[0,30],"nice":false,"zero":false},"axis":null},"y":{"field":"v","type":"quantitative","scale":{"domain":[0,8],"nice":false,"zero":false},"axis":null},"text":{"field":"text"}}},
{"data":{"name":"lab"},"transform":[{"filter":"datum.p=='R' && datum.s=='rm'"}],"mark":{"type":"text","font":"Liberation Serif","fontSize":15,"align":"left","baseline":"alphabetic","color":"#1a1a1a"},
 "encoding":{"x":{"field":"t","type":"quantitative","scale":{"domain":[0,30],"nice":false,"zero":false},"axis":null},"y":{"field":"v","type":"quantitative","scale":{"domain":[0,8],"nice":false,"zero":false},"axis":null},"text":{"field":"text"}}},
{"data":{"name":"lab"},"transform":[{"filter":"datum.p=='R' && datum.s=='rmR'"}],"mark":{"type":"text","font":"Liberation Serif","fontSize":15,"align":"right","baseline":"alphabetic","color":"#1a1a1a"},
 "encoding":{"x":{"field":"t","type":"quantitative","scale":{"domain":[0,30],"nice":false,"zero":false},"axis":null},"y":{"field":"v","type":"quantitative","scale":{"domain":[0,8],"nice":false,"zero":false},"axis":null},"text":{"field":"text"}}}
]}
]
}
